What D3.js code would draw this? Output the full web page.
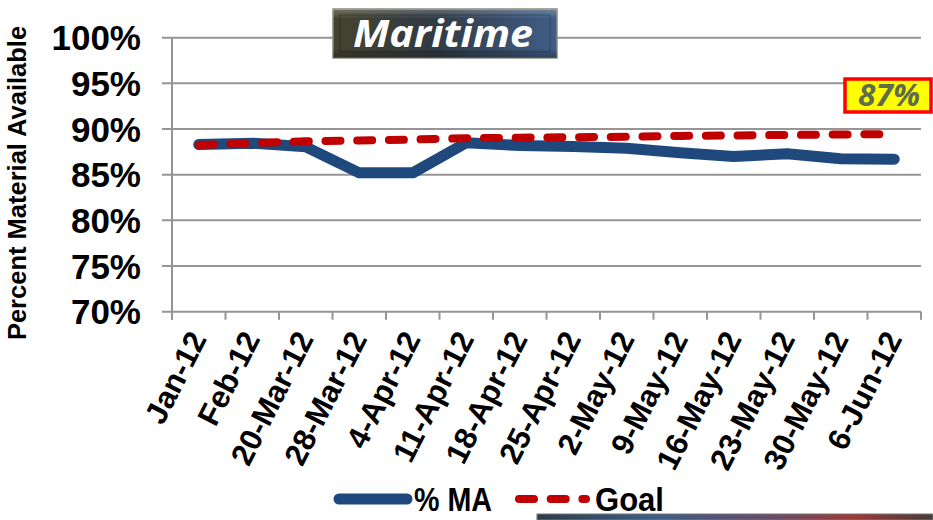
<!DOCTYPE html>
<html>
<head>
<meta charset="utf-8">
<script src="https://cdn.jsdelivr.net/npm/d3@7/dist/d3.min.js"></script>
<style>
  html, body { margin: 0; padding: 0; background: #ffffff; }
  svg { display: block; }
</style>
</head>
<body>
<svg id="chart" width="933" height="520"></svg>
<script>
const categories = ["Jan-12","Feb-12","20-Mar-12","28-Mar-12","4-Apr-12","11-Apr-12","18-Apr-12","25-Apr-12","2-May-12","9-May-12","16-May-12","23-May-12","30-May-12","6-Jun-12"];
const maValues   = [88.3, 88.45, 88.05, 85.2, 85.2, 88.5, 88.2, 88.1, 87.9, 87.4, 87.0, 87.3, 86.75, 86.7];
const goalValues = [88.25, 88.45, 88.65, 88.75, 88.85, 89.0, 89.05, 89.1, 89.15, 89.25, 89.3, 89.35, 89.4, 89.45];
const yTicks = [70, 75, 80, 85, 90, 95, 100];
const seriesNames = ["% MA", "Goal"];
const titleText = "Maritime";
const goalLabel = "87%";
const yTitle = "Percent Material Available";

const svg = d3.select("#chart");
const pLeft = 172, pRight = 921, pTop = 37.7, pBottom = 311.7;

const x = d3.scaleBand().domain(categories).range([pLeft, pRight]).padding(0);
const y = d3.scaleLinear().domain([70, 100]).range([pBottom, pTop]);
const cx = d => x(d) + x.bandwidth() / 2;

const gridColor = "#959595";

// gridlines
svg.append("g").selectAll("line").data(yTicks).join("line")
  .attr("x1", pLeft - 10).attr("x2", pRight)
  .attr("y1", d => y(d)).attr("y2", d => y(d))
  .attr("stroke", gridColor).attr("stroke-width", 2);

// y axis line
svg.append("line").attr("x1", pLeft).attr("x2", pLeft)
  .attr("y1", y(100)).attr("y2", pBottom + 8)
  .attr("stroke", gridColor).attr("stroke-width", 2);

// x ticks at band boundaries
const boundaries = categories.map(c => x(c)).concat([pRight]);
svg.append("g").selectAll("line").data(boundaries).join("line")
  .attr("x1", d => d).attr("x2", d => d)
  .attr("y1", pBottom).attr("y2", pBottom + 8)
  .attr("stroke", gridColor).attr("stroke-width", 2);

// y tick labels
svg.append("g").selectAll("text").data(yTicks).join("text")
  .attr("x", 141).attr("y", d => y(d))
  .attr("dy", "0.36em")
  .attr("text-anchor", "end")
  .attr("font-family", "'Liberation Sans', Arial, sans-serif")
  .attr("font-weight", "bold").attr("font-size", 35)
  .attr("fill", "#000")
  .text(d => d + "%");

// y axis title
svg.append("text")
  .attr("transform", "translate(26,183) rotate(-90)")
  .attr("text-anchor", "middle")
  .attr("font-family", "'Liberation Sans', Arial, sans-serif")
  .attr("font-weight", "bold").attr("font-size", 25.5)
  .attr("fill", "#000")
  .text(yTitle);

// x labels
svg.append("g").selectAll("text").data(categories).join("text")
  .attr("transform", d => `translate(${cx(d) - 1},${pBottom + 22}) rotate(-63)`)
  .attr("text-anchor", "end")
  .attr("dy", "0.35em")
  .attr("font-family", "'Liberation Sans', Arial, sans-serif")
  .attr("font-weight", "bold").attr("font-size", 31)
  .attr("fill", "#000")
  .text(d => d);

// lines
const lineGen = d3.line().x((d, i) => cx(categories[i])).y(d => y(d));
svg.append("path").datum(maValues)
  .attr("d", lineGen).attr("fill", "none")
  .attr("stroke", "#1f497d").attr("stroke-width", 11)
  .attr("stroke-linecap", "round").attr("stroke-linejoin", "round");
svg.append("path").datum(goalValues)
  .attr("d", lineGen).attr("fill", "none")
  .attr("stroke", "#c00000").attr("stroke-width", 8)
  .attr("stroke-dasharray", "15 16.7")
  .attr("stroke-linecap", "round").attr("stroke-linejoin", "round");

// title box
const defs = svg.append("defs");
const tg = defs.append("linearGradient").attr("id", "tg").attr("x1", "0").attr("x2", "1").attr("y1", "0").attr("y2", "0");
tg.append("stop").attr("offset", "0%").attr("stop-color", "#45432e");
tg.append("stop").attr("offset", "45%").attr("stop-color", "#303a44");
tg.append("stop").attr("offset", "100%").attr("stop-color", "#3f5e88");
const tv = defs.append("linearGradient").attr("id", "tv").attr("x1", "0").attr("x2", "0").attr("y1", "0").attr("y2", "1");
tv.append("stop").attr("offset", "0%").attr("stop-color", "#ffffff").attr("stop-opacity", 0.25);
tv.append("stop").attr("offset", "20%").attr("stop-color", "#ffffff").attr("stop-opacity", 0.0);
tv.append("stop").attr("offset", "80%").attr("stop-color", "#000000").attr("stop-opacity", 0.0);
tv.append("stop").attr("offset", "100%").attr("stop-color", "#000000").attr("stop-opacity", 0.3);
svg.append("rect").attr("x", 333).attr("y", 9).attr("width", 224).attr("height", 49)
  .attr("fill", "url(#tg)").attr("stroke", "#8a8a80").attr("stroke-width", 1.5);
svg.append("rect").attr("x", 333).attr("y", 9).attr("width", 224).attr("height", 49)
  .attr("fill", "url(#tv)");
svg.append("rect").attr("x", 340).attr("y", 15).attr("width", 210).attr("height", 37)
  .attr("fill", "none").attr("stroke", "#000").attr("stroke-opacity", 0.25).attr("stroke-width", 1);
svg.append("text").attr("x", 443).attr("y", 47)
  .attr("text-anchor", "middle")
  .attr("font-family", "'Open Sans', Lato, sans-serif")
  .attr("font-weight", "bold").attr("font-style", "italic").attr("font-size", 38)
  .attr("fill", "#ffffff")
  .attr("textLength", 180).attr("lengthAdjust", "spacingAndGlyphs")
  .text(titleText);

// goal label box
svg.append("rect").attr("x", 845).attr("y", 79).attr("width", 86).attr("height", 33)
  .attr("fill", "#ffff00").attr("stroke", "#ff0000").attr("stroke-width", 3.5);
svg.append("text").attr("x", 889).attr("y", 106)
  .attr("text-anchor", "middle")
  .attr("font-family", "'Open Sans', Lato, sans-serif")
  .attr("font-weight", "bold").attr("font-style", "italic").attr("font-size", 31)
  .attr("fill", "#5f6d4a")
  .attr("textLength", 62).attr("lengthAdjust", "spacingAndGlyphs")
  .text(goalLabel);

// legend
const ly = 499;
svg.append("line").attr("x1", 339).attr("x2", 407).attr("y1", ly).attr("y2", ly)
  .attr("stroke", "#1f497d").attr("stroke-width", 11).attr("stroke-linecap", "round");
svg.append("text").attr("x", 414).attr("y", ly + 12)
  .attr("font-family", "'Liberation Sans', Arial, sans-serif")
  .attr("font-weight", "bold").attr("font-size", 33).attr("fill", "#000")
  .attr("textLength", 78).attr("lengthAdjust", "spacingAndGlyphs")
  .text(seriesNames[0]);
svg.append("line").attr("x1", 519).attr("x2", 586).attr("y1", ly).attr("y2", ly)
  .attr("stroke", "#c00000").attr("stroke-width", 8).attr("stroke-linecap", "round")
  .attr("stroke-dasharray", "15 16.7");
svg.append("text").attr("x", 595).attr("y", ly + 12)
  .attr("font-family", "'Liberation Sans', Arial, sans-serif")
  .attr("font-weight", "bold").attr("font-size", 33).attr("fill", "#000")
  .attr("textLength", 69).attr("lengthAdjust", "spacingAndGlyphs")
  .text(seriesNames[1]);

// bottom decorative bar
const bg = defs.append("linearGradient").attr("id", "bg").attr("x1", "0").attr("x2", "1");
bg.append("stop").attr("offset", "0%").attr("stop-color", "#2e3c48");
bg.append("stop").attr("offset", "30%").attr("stop-color", "#3b5f8c");
bg.append("stop").attr("offset", "60%").attr("stop-color", "#6a4a66");
bg.append("stop").attr("offset", "80%").attr("stop-color", "#a03a38");
bg.append("stop").attr("offset", "100%").attr("stop-color", "#4a3a3a");
svg.append("rect").attr("x", 537).attr("y", 514).attr("width", 396).attr("height", 6)
  .attr("fill", "url(#bg)").attr("stroke", "#777").attr("stroke-width", 1);
</script>
</body>
</html>
